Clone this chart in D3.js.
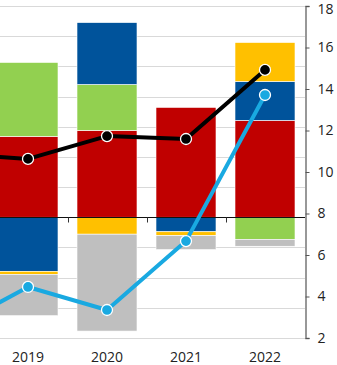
<!DOCTYPE html>
<html>
<head>
<meta charset="utf-8">
<script src="https://cdn.jsdelivr.net/npm/d3@7"></script>
<style>
  body { margin: 0; background: #fff; }
  text { font-family: "Open Sans", "Noto Sans", sans-serif; fill: #222; }
</style>
</head>
<body>
<div class="chart-container"></div>
<script>
//! CONSTS
const WIDTH = 337
const HEIGHT = 365

//! DATA
const years = ['2019', '2020', '2021', '2022']
const lineYears = ['2018', '2019', '2020', '2021', '2022']
// bar components (left axis, hidden)
const red = [2.68, 2.88, 3.64, 3.21]
const green = [2.45, 1.52, 0, -0.73]
const blue = [-1.79, 2.05, -0.48, 1.29]
const yellow = [-0.1, -0.56, -0.13, 1.29]
const gray = [-1.37, -3.21, -0.46, -0.23]
// lines (right axis)
const blackLine = [10.9, 10.63, 11.73, 11.59, 14.92]
const cyanLine = [2.4, 4.46, 3.35, 6.67, 13.71]
const rightTicks = [2, 4, 6, 8, 10, 12, 14, 16, 18]

const seriesKeys = ['red', 'green', 'blue', 'yellow', 'gray']
const colors = {
  red: '#c00000', green: '#92d050', blue: '#00539b',
  yellow: '#ffc000', gray: '#bfbfbf'
}

//! SVG
const svg = d3.select('.chart-container')
  .append('svg')
  .attr('width', WIDTH)
  .attr('height', HEIGHT)

//! SCALES
const x = d3.scalePoint()
  .domain(lineYears)
  .range([-51, 265])
const barW = 60

const yLeft = d3.scaleLinear().domain([-4, 7]).range([338, 6])
const yRight = d3.scaleLinear().domain([2, 18]).range([338, 6])

// gridlines from the hidden left axis
svg.append('g')
  .selectAll('line')
  .data(d3.range(-4, 8))
  .enter()
  .append('line')
  .attr('x1', 0)
  .attr('x2', 305)
  .attr('y1', d => Math.round(yLeft(d)) + .5)
  .attr('y2', d => Math.round(yLeft(d)) + .5)
  .attr('stroke', '#d9d9d9')
  .attr('stroke-width', 1)

//! BARS
const table = years.map((y, i) => ({
  year: y, red: red[i], green: green[i], blue: blue[i], yellow: yellow[i], gray: gray[i]
}))

const stacked = d3.stack()
  .keys(seriesKeys)
  .offset(d3.stackOffsetDiverging)(table)

svg.append('g')
  .selectAll('g')
  .data(stacked)
  .enter()
  .append('g')
  .attr('fill', d => colors[d.key])
  .selectAll('rect')
  .data(d => d)
  .enter()
  .append('rect')
  .attr('x', d => x(d.data.year) - barW / 2)
  .attr('width', barW)
  .attr('y', d => yLeft(Math.max(d[0], d[1])))
  .attr('height', d => Math.abs(yLeft(d[0]) - yLeft(d[1])))
  .attr('stroke', '#fff')
  .attr('stroke-width', d => (d[1] - d[0]) === 0 ? 0 : .6)

// baseline + category ticks
const base = Math.round(yLeft(0)) + .5
svg.append('line')
  .attr('x1', 0).attr('x2', 305)
  .attr('y1', base).attr('y2', base)
  .attr('stroke', '#111').attr('stroke-width', 1)

svg.append('g')
  .selectAll('line')
  .data(d3.pairs(years))
  .enter()
  .append('line')
  .attr('x1', d => Math.round((x(d[0]) + x(d[1])) / 2) + .5)
  .attr('x2', d => Math.round((x(d[0]) + x(d[1])) / 2) + .5)
  .attr('y1', base)
  .attr('y2', base + 5)
  .attr('stroke', '#333')

//! LINES
const line = d3.line()
  .x((d, i) => x(lineYears[i]))
  .y(d => yRight(d))

function drawLine(values, color) {
  svg.append('path')
    .datum(values)
    .attr('d', line)
    .attr('fill', 'none')
    .attr('stroke', color)
    .attr('stroke-width', 4)
    .attr('stroke-linejoin', 'round')

  svg.append('g')
    .selectAll('circle')
    .data(values.slice(1))
    .enter()
    .append('circle')
    .attr('cx', (d, i) => x(lineYears[i + 1]))
    .attr('cy', d => yRight(d))
    .attr('r', 5.5)
    .attr('fill', color)
    .attr('stroke', '#fff')
    .attr('stroke-width', 1.3)
}
drawLine(blackLine, '#000')
drawLine(cyanLine, '#19a9e1')

//! RIGHT AXIS
const axis = svg.append('g')
  .attr('transform', 'translate(305.5,0)')
  .call(d3.axisRight(yRight).tickValues(rightTicks).tickSize(4).tickPadding(8))
axis.select('.domain').attr('stroke', '#777').attr('stroke-width', 1.5)
axis.selectAll('.tick line').attr('stroke', '#555')
axis.selectAll('text')
  .attr('font-size', 14)
  .attr('font-family', '"Open Sans", sans-serif')
  .attr('fill', '#222')
// keep the top label inside the frame
axis.selectAll('text')
  .filter(d => d === 18)
  .attr('dy', '0.5em')

//! YEAR LABELS
svg.append('g')
  .selectAll('text')
  .data(years)
  .enter()
  .append('text')
  .attr('x', d => x(d))
  .attr('y', 362)
  .attr('text-anchor', 'middle')
  .attr('font-size', 14)
  .text(d => d)
</script>
</body>
</html>
